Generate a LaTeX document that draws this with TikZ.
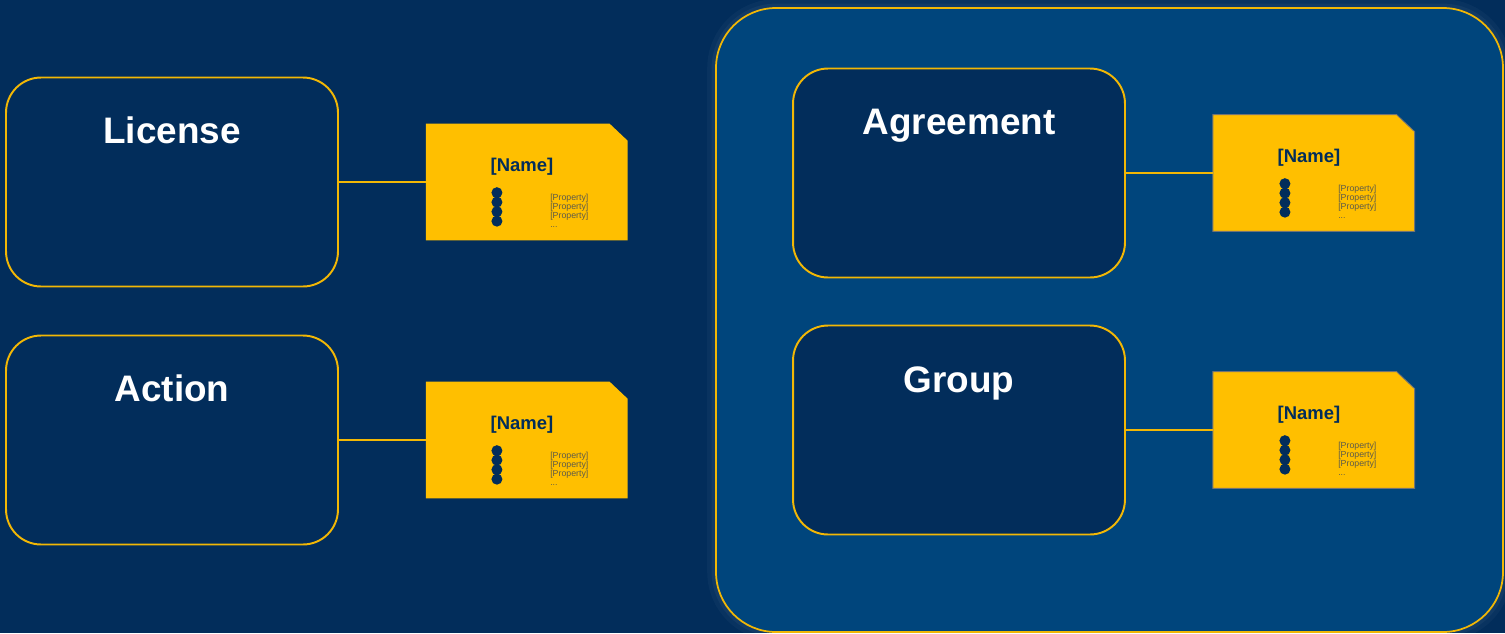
\documentclass[tikz,border=0pt]{standalone}
\usepackage{fontspec}
\setmainfont{Liberation Sans}
\usetikzlibrary{positioning}

\definecolor{navy}{HTML}{022D5B}
\definecolor{panelblue}{HTML}{00457C}
\definecolor{gold}{HTML}{FFBF00}
\definecolor{edgegold}{HTML}{F2B705}
\definecolor{propgray}{HTML}{5E5B49}

\tikzset{
	entity/.style={draw=edgegold, line width=1.1pt, fill=navy, rounded corners=0.7cm,
		minimum width=6.64cm, minimum height=4.18cm, inner sep=0pt},
	title/.style={text=white, anchor=base, font=\bfseries\fontsize{21}{25}\selectfont},
	card/.style={minimum width=4.02cm, minimum height=2.32cm, inner sep=0pt},
	cardname/.style={text=navy, anchor=base, font=\bfseries\fontsize{10.5}{12}\selectfont},
	prop/.style={text=propgray, anchor=north west, inner sep=0pt, align=left,
		font=\fontsize{5}{5.2}\selectfont},
	link/.style={draw=edgegold, line width=1.2pt},
}

\begin{document}
\begin{tikzpicture}[x=0.02cm, y=-0.02cm]
		% BACKGROUND
		\useasboundingbox (0,0) rectangle (1505,633);
		\fill[navy] (0,0) rectangle (1505,633);
		\draw[white, opacity=0.03, line width=10pt, rounded corners=1.2cm] (716,8) rectangle (1503,632);
		\draw[white, opacity=0.04, line width=5pt, rounded corners=1.2cm] (716,8) rectangle (1503,632);
		\draw[edgegold, fill=panelblue, line width=1pt, rounded corners=1.2cm] (716,8) rectangle (1503,632);

		% BLOCKS
		\node[entity] (license) at (172,182) {};
		\node[entity] (action) at (172,440) {};
		\node[entity] (agreement) at (959,173) {};
		\node[entity] (group) at (959,430) {};
		\node[title] (licensetitle) at (172,143) {License};
		\node[title] (actiontitle) at (172,401) {Action};
		\node[title] (agreementtitle) at (959,134) {Agreement};
		\node[title] (grouptitle) at (959,392) {Group};

		% CARDS
		\node[card, right=1.74cm of license] (licensecard) {};
		\node[card, right=1.74cm of action] (actioncard) {};
		\node[card, right=1.74cm of agreement] (agreementcard) {};
		\node[card, right=1.74cm of group] (groupcard) {};

		\fill[gold] (licensecard.south west) -- (licensecard.north west) -- ([xshift=-0.36cm]licensecard.north east)
			-- ([yshift=-0.34cm]licensecard.north east) -- (licensecard.south east) -- cycle;
		\fill[gold] (actioncard.south west) -- (actioncard.north west) -- ([xshift=-0.36cm]actioncard.north east)
			-- ([yshift=-0.34cm]actioncard.north east) -- (actioncard.south east) -- cycle;
		\filldraw[fill=gold, draw=black!55, line width=0.5pt] (agreementcard.south west) -- (agreementcard.north west)
			-- ([xshift=-0.36cm]agreementcard.north east) -- ([yshift=-0.34cm]agreementcard.north east)
			-- (agreementcard.south east) -- cycle;
		\filldraw[fill=gold, draw=black!55, line width=0.5pt] (groupcard.south west) -- (groupcard.north west)
			-- ([xshift=-0.36cm]groupcard.north east) -- ([yshift=-0.34cm]groupcard.north east)
			-- (groupcard.south east) -- cycle;

		\node[cardname] (licensename) at ([shift={(96,48)}]licensecard.north west) {[Name]};
		\node[cardname] (actionname) at ([shift={(96,48)}]actioncard.north west) {[Name]};
		\node[cardname] (agreementname) at ([shift={(96,48)}]agreementcard.north west) {[Name]};
		\node[cardname] (groupname) at ([shift={(96,48)}]groupcard.north west) {[Name]};

		\fill[navy] ([shift={(71,69)}]licensecard.north west) circle (5.5) ([shift={(71,78.5)}]licensecard.north west) circle (5.5)
			([shift={(71,88)}]licensecard.north west) circle (5.5) ([shift={(71,97.5)}]licensecard.north west) circle (5.5);
		\fill[navy] ([shift={(71,69)}]actioncard.north west) circle (5.5) ([shift={(71,78.5)}]actioncard.north west) circle (5.5)
			([shift={(71,88)}]actioncard.north west) circle (5.5) ([shift={(71,97.5)}]actioncard.north west) circle (5.5);
		\fill[navy] ([shift={(72,69)}]agreementcard.north west) circle (5.5) ([shift={(72,78.5)}]agreementcard.north west) circle (5.5)
			([shift={(72,88)}]agreementcard.north west) circle (5.5) ([shift={(72,97.5)}]agreementcard.north west) circle (5.5);
		\fill[navy] ([shift={(72,69)}]groupcard.north west) circle (5.5) ([shift={(72,78.5)}]groupcard.north west) circle (5.5)
			([shift={(72,88)}]groupcard.north west) circle (5.5) ([shift={(72,97.5)}]groupcard.north west) circle (5.5);

		\node[prop] (licenseprops) at ([shift={(124,70)}]licensecard.north west) {{[Property]}\\{[Property]}\\{[Property]}\\...};
		\node[prop] (actionprops) at ([shift={(124,70)}]actioncard.north west) {{[Property]}\\{[Property]}\\{[Property]}\\...};
		\node[prop] (agreementprops) at ([shift={(125,70)}]agreementcard.north west) {{[Property]}\\{[Property]}\\{[Property]}\\...};
		\node[prop] (groupprops) at ([shift={(125,70)}]groupcard.north west) {{[Property]}\\{[Property]}\\{[Property]}\\...};

		% LINKS
		\draw[link] (license) -- (licensecard);
		\draw[link] (action) -- (actioncard);
		\draw[link] (agreement) -- (agreementcard);
		\draw[link] (group) -- (groupcard);
	\end{tikzpicture}
\end{document}
